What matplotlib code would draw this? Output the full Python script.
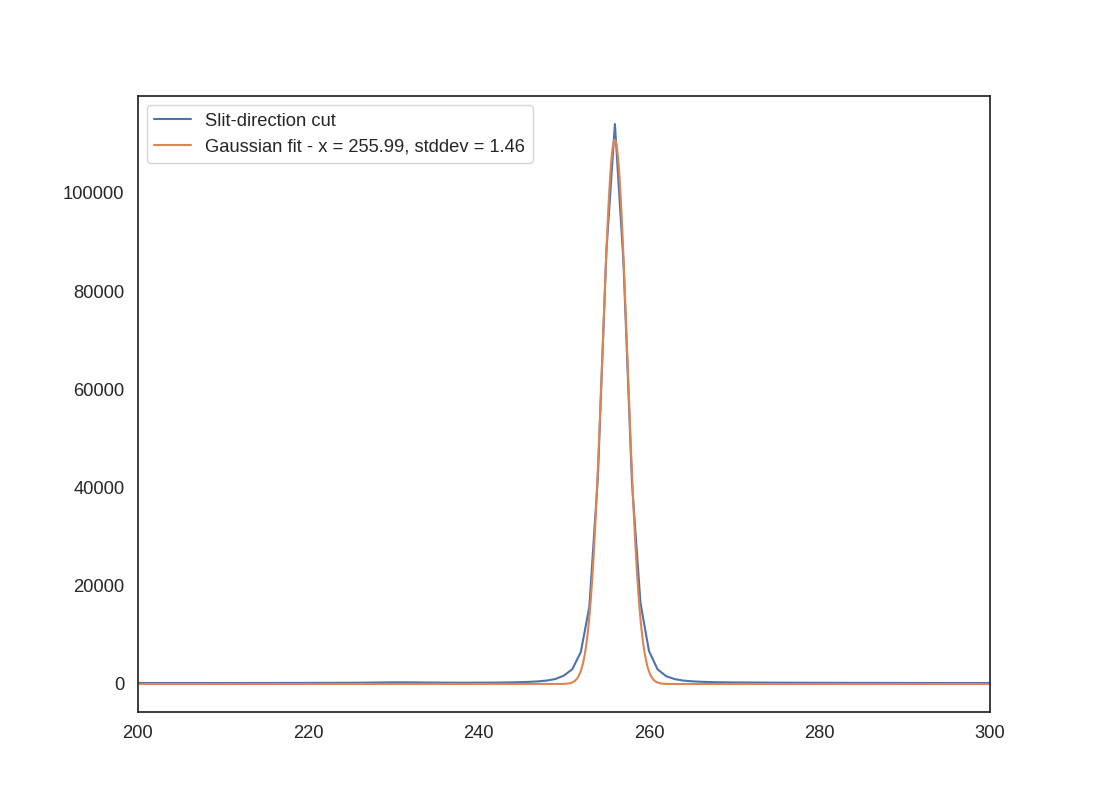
import matplotlib
matplotlib.use("Agg")
import matplotlib.pyplot as plt
import numpy as np
import seaborn as sns

# slit-direction cut, pixel 200..300
PIX = np.arange(200, 301)
CUT = [
    200, 200, 200, 200, 200, 200, 200, 200, 200, 200,   # 200-209
    200, 200, 200, 210, 210, 210, 210, 220, 220, 220,   # 210-219
    230, 230, 240, 240, 250, 250, 260, 280, 300, 320,   # 220-229
    340, 340, 330, 320, 300, 290, 280, 270, 270, 270,   # 230-239
    280, 280, 290, 310, 340, 380, 440, 540, 700, 1000,  # 240-249
    1700, 3000, 6500, 15700, 42000, 88000, 114000, 86000, 41000, 16500,  # 250-259
    6700, 3000, 1600, 1000, 700, 550, 460, 400, 360, 340,  # 260-269
    320, 310, 300, 290, 280, 270, 265, 260, 255, 250,   # 270-279
    245, 240, 240, 235, 230, 230, 225, 220, 220, 215,   # 280-289
    210, 210, 210, 205, 205, 200, 200, 200, 200, 200, 200,  # 290-300
]

# fitted gaussian parameters
AMP = 110800
MEAN = 255.99
STDDEV = 1.46

sns.set_theme(style="white", font_scale=1.2)
plt.rcParams["font.family"] = ["Liberation Sans", "DejaVu Sans"]

fig, ax = plt.subplots(figsize=(11, 8), dpi=100)

xfit = np.linspace(200, 300, 2001)
yfit = AMP * np.exp(-(xfit - MEAN) ** 2 / (2 * STDDEV ** 2))

pal = sns.color_palette("deep")
ax.plot(PIX, CUT, color=pal[0], lw=1.5, label="Slit-direction cut")
ax.plot(xfit, yfit, color=pal[1], lw=1.5,
        label=f"Gaussian fit - x = {MEAN:.2f}, stddev = {STDDEV:.2f}")

ax.set_xlim(200, 300)
ax.legend(loc="upper left")

fig.savefig("out.png", dpi=100)
